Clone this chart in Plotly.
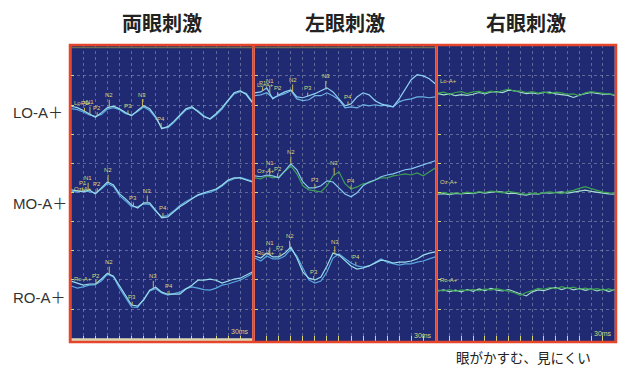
import numpy as np
import plotly.graph_objects as go

W, H = 618, 366

panel_titles = ["両眼刺激", "左眼刺激", "右眼刺激"]
row_labels = ["LO-A＋", "MO-A＋", "RO-A＋"]
channel_tags = ["Lo-A+", "Oz-A+", "Ro-A+"]
caption = "眼がかすむ、見にくい"
sweep_label = "30ms"

# sample times (ms) shared by every sweep
t_ms = list(range(0, 301, 10))

# ---- binocular stimulation: two averaged sweeps per channel (µV, re. channel baseline)
bin_lo_a = [0, -0.5, -1.5, -2.6, -3.8, -2.2, -0.5, 0, -0.9, -2.2, -3.3, -1.5, 0.2, -0.9, -3.6, -7.7,
            -7.0, -5.2, -2.9, -0.9, -0.2, -1.9, -3.6, -4.3, -2.6, -0.5, 2.2, 4.6, 5.3, 4.0, 1.2]
bin_lo_b = [-0.8, -1.2, -2.0, -3.0, -3.5, -2.8, -1.0, -0.5, -1.2, -2.6, -3.0, -1.8, -0.3, -1.5, -4.0, -7.3,
            -7.4, -5.6, -3.4, -1.3, -0.6, -1.6, -3.3, -4.5, -3.0, -1.0, 1.8, 4.2, 5.0, 4.4, 1.6]
bin_mo_a = [0, -0.3, -0.7, 0, -1.4, 0.7, 2.7, 1.7, -1.4, -3.1, -5.2, -6.2, -4.5, -4.5, -6.9, -9.6,
            -9.3, -7.6, -5.8, -4.5, -3.1, -1.7, -1.0, -0.3, 0.3, 1.7, 3.4, 4.1, 4.1, 3.4, 2.7]
bin_mo_b = [-0.5, -0.8, -0.3, -0.6, -1.0, 0.3, 2.2, 1.2, -2.0, -3.8, -5.8, -5.8, -4.8, -5.0, -7.4, -9.2,
            -8.8, -7.2, -5.4, -4.0, -2.9, -1.9, -1.3, -0.8, 0.0, 1.3, 3.0, 3.8, 4.3, 3.6, 3.0]
bin_ro_a = [0, -0.7, -1.4, -1.0, -1.0, 0.7, 2.7, 1.7, -1.7, -5.2, -8.2, -8.6, -6.5, -3.1, -2.1, -3.8,
            -4.5, -4.5, -4.5, -2.7, -1.4, 0.3, 0.3, 0.7, 0.3, -0.7, 0, 0.7, 1.0, 2.1, 3.1]
bin_ro_b = [-1.7, -2.4, -2.0, -1.4, -1.2, 0.0, 2.4, 1.4, -2.4, -5.8, -8.9, -9.0, -6.2, -3.4, -2.6, -4.1,
            -4.8, -4.3, -3.8, -2.6, -2.0, -2.4, -2.9, -3.1, -2.4, -1.4, -1.0, -0.3, 0.3, 1.4, 2.6]

# ---- left-eye stimulation
lft_lo_a = [0, 0.3, 1.7, -2.1, -0.7, 0.3, 1.0, -1.4, -1.7, -1.0, -0.3, 0.7, 1.7, 0.3, -2.1, -4.5,
            -3.8, -1.4, 0, -0.7, -2.7, -3.8, -4.5, -4.8, -2.1, 1.4, 4.5, 6.2, 5.8, 4.8, 3.1]
lft_lo_b = [-1.0, -0.7, 0, -1.7, -1.0, -0.3, 0.7, -2.1, -2.7, -2.4, -1.0, -1.0, 0, -1.0, -2.4, -5.2,
            -4.8, -5.2, -4.1, -4.5, -4.1, -4.5, -4.1, -4.8, -3.1, -2.4, -2.1, -1.4, -1.4, -1.7, -1.4]
lft_mo_a = [0, -0.3, 0.3, 0, -0.7, 1.7, 4.1, 2.1, -2.1, -4.1, -4.1, -3.4, -1.7, -2.1, -4.1, -6.2,
            -7.2, -5.8, -3.4, -2.1, -1.4, -0.3, 0.3, 0.7, 1.4, 2.1, 2.4, 3.1, 3.8, 4.5, 5.2]
lft_mo_b = [-0.7, -1.0, 0, -0.7, -0.3, 1.4, 3.4, 0.7, -3.4, -4.8, -5.2, -5.5, -3.4, 0, 1.4, -2.7,
            -4.5, -3.8, -2.7, -2.4, -1.4, -0.7, -0.7, 0, 0.3, 0.7, 0.3, 1.0, 0, 1.4, 2.7]
lft_ro_a = [0, -0.7, 1.0, -0.3, -0.3, 1.0, 3.1, -0.7, -5.5, -7.6, -8.2, -7.2, -3.4, 1.0, 0.3, -1.7,
            -3.4, -4.5, -4.1, -3.4, -2.4, -1.4, -1.7, -2.4, -2.1, -2.1, -1.7, -1.0, 0.3, 1.0, 1.4]
lft_ro_b = [-0.7, -1.7, 0, -1.0, -1.0, 0, 2.4, 0, -4.1, -8.2, -9.3, -8.6, -5.5, -0.7, 0.7, -1.0,
            -2.4, -3.4, -3.8, -3.4, -2.1, -1.0, -2.1, -2.7, -3.1, -2.7, -2.7, -2.1, -1.7, -1.0, -0.3]

# ---- right-eye stimulation (no clear response)
rgt_lo_a = [0, 0.3, -0.4, 0.2, 0.5, -0.2, 0.4, 0.6, 0.1, 0.7, 0.3, 0.9, 1.4, 0.6, 0.8, 0.2,
            0.5, 0.0, 0.4, -0.2, 0.3, 0.1, -0.4, -0.3, -0.9, 0.1, 0.5, 0.2, -0.1, -0.4, -0.5]
rgt_lo_b = [-0.2, -0.6, -0.3, -0.9, -0.5, -0.8, -0.4, 0.2, -0.3, 0.4, 0.5, 0.2, 1.0, 0.8, 0.3, -0.2,
            0.1, -0.3, 0.2, 0.3, -0.3, -0.6, -0.8, -1.5, -0.7, -0.2, 0.2, -0.1, -0.4, -0.3, -0.8]
rgt_mo_a = [0, 0.2, -0.3, 0.1, -0.2, 0.3, 0.0, 0.5, 0.2, 0.7, 0.4, 0.1, 0.6, 0.2, -0.1, -0.4,
            0.0, -0.3, 0.2, 0.4, 0.1, -0.2, 0.5, 0.9, 1.6, 2.2, 1.5, 0.8, 0.3, 0.1, -0.2]
rgt_mo_b = [-0.4, -0.2, -0.5, -0.1, -0.3, 0.0, -0.2, 0.3, 0.0, 0.2, 0.6, 0.3, -0.2, 0.0, -0.5, -0.7,
            -0.2, -0.4, 0.1, 0.0, 0.2, 0.4, 0.0, 0.3, 0.8, 1.0, 0.6, 0.2, 0.0, -0.3, -0.4]
rgt_ro_a = [0, -0.3, 0.2, -0.4, 0.1, -0.2, 0.3, -0.3, 0.4, 0.0, 0.5, 0.1, -0.4, -0.9, -1.8, -0.8,
            -0.2, 0.6, 0.3, 0.9, 0.4, 1.2, 0.6, 1.0, 0.3, 0.7, 0.2, 0.5, 0.0, 0.4, -0.2]
rgt_ro_b = [-0.3, 0.1, -0.5, 0.0, -0.6, 0.2, -0.4, 0.4, -0.2, 0.6, 0.0, -0.3, 0.2, -0.5, -1.2, -2.0,
            -0.6, 0.1, -0.2, 0.5, 0.9, 0.2, 0.8, 0.1, 0.6, -0.1, 0.4, -0.3, 0.3, -0.5, 0.2]

# peak markers (name, latency in ms)
bin_peaks = [
    [("P1", 22), ("N1", 31), ("P2", 43), ("N2", 63), ("P3", 94), ("N3", 118), ("P4", 149)],
    [("P1", 19), ("N1", 28), ("P2", 43), ("N2", 61), ("P3", 103), ("N3", 126), ("P4", 152)],
    [("P2", 41), ("N2", 63), ("P3", 101), ("N3", 136), ("P4", 162)],
]
lft_peaks = [
    [("P1", 13), ("N1", 25), ("P2", 38), ("N2", 63), ("P3", 88), ("N3", 118), ("P4", 155)],
    [("N1", 25), ("P2", 38), ("N2", 60), ("P3", 100), ("N3", 132), ("P4", 160)],
    [("N1", 25), ("P2", 42), ("N2", 58), ("P3", 98), ("N3", 133), ("P4", 168)],
]
rgt_peaks = [[], [], []]

waves = [
    [(bin_lo_a, bin_lo_b), (bin_mo_a, bin_mo_b), (bin_ro_a, bin_ro_b)],
    [(lft_lo_a, lft_lo_b), (lft_mo_a, lft_mo_b), (lft_ro_a, lft_ro_b)],
    [(rgt_lo_a, rgt_lo_b), (rgt_mo_a, rgt_mo_b), (rgt_ro_a, rgt_ro_b)],
]
peaks = [bin_peaks, lft_peaks, rgt_peaks]

# ---- screen layout ------------------------------------------------------
baselines = [[69.6, 40.9, 9.6], [74.2, 45.7, 18.2], [74.1, 39.8, 6.5]]
tag_shift = [[3, 1, 2], [8, 5, 3], [12, 11, 10]]
sweep_colors = [
    [("#9adbea", "#5aa8e0"), ("#9adbea", "#5aa8e0"), ("#9adbea", "#5aa8e0")],
    [("#8fd0f2", "#6db3e3"), ("#86c8f0", "#3f9f55"), ("#9adbea", "#5aa8e0")],
    [("#3aa24e", "#a5dccf"), ("#3aa24e", "#a5dccf"), ("#3aa24e", "#a5dccf")],
]

edges = [70, 253.5, 436.5, 616]
top_px, bot_px = 45, 342
BG = "#1f2a72"
RED = "#e5452b"
YEL = "#dcd67c"
GRID = "rgba(160,165,190,0.5)"


def xp(px):
    return px / W


def yp(py):
    return 1 - py / H


fig = go.Figure()
annotations = []
shapes = []

for i in range(3):
    sfx = "" if i == 0 else str(i + 1)
    xa, ya = "x" + sfx, "y" + sfx
    fig.update_layout(**{
        "xaxis" + sfx: dict(
            domain=[xp(edges[i] + 1.25), xp(edges[i + 1] - 1.25)], range=[0, 300],
            anchor=ya, tickmode="linear", tick0=0, dtick=20, showgrid=True,
            gridcolor=GRID, griddash="dot", gridwidth=1, zeroline=False,
            showticklabels=False, ticks="inside", ticklen=6, tickcolor=YEL,
            showline=False, fixedrange=True),
        "yaxis" + sfx: dict(
            domain=[yp(bot_px), yp(top_px)], range=[-11.3, 90.6], anchor=xa,
            tickmode="array", tickvals=list(range(0, 81, 10)), showgrid=True,
            gridcolor=GRID, griddash="dot", gridwidth=1, zeroline=False,
            showticklabels=False, ticks="inside", ticklen=3, tickcolor=YEL,
            showline=False, fixedrange=True),
    })

    for r in range(3):
        a, b = waves[i][r]
        base = baselines[i][r]
        ca, cb = sweep_colors[i][r]
        ya_vals = np.array(a) + base
        yb_vals = np.array(b) + base
        fig.add_trace(go.Scatter(x=t_ms, y=yb_vals, mode="lines", line=dict(color=cb, width=1.2),
                                 xaxis=xa, yaxis=ya, hoverinfo="skip", showlegend=False))
        fig.add_trace(go.Scatter(x=t_ms, y=ya_vals, mode="lines", line=dict(color=ca, width=1.2),
                                 xaxis=xa, yaxis=ya, hoverinfo="skip", showlegend=False))

        # channel tag at sweep start
        annotations.append(dict(
            x=0.5, y=ya_vals[0], xref=xa, yref=ya, xanchor="left", yanchor="middle",
            yshift=tag_shift[i][r], text=channel_tags[r], showarrow=False,
            font=dict(family="Liberation Sans", size=6, color=YEL)))

        # peak markers above the sweeps (negative peaks slightly higher)
        for name, lat in peaks[i][r]:
            yv = max(np.interp(lat, t_ms, ya_vals), np.interp(lat, t_ms, yb_vals))
            annotations.append(dict(
                x=lat, y=yv, xref=xa, yref=ya, text=name, showarrow=True, arrowhead=0,
                arrowwidth=1, arrowcolor="#c9b85a", ax=0,
                ay=-12 if name.startswith("N") else -8, standoff=0,
                font=dict(family="Liberation Sans", size=6, color=YEL)))

    # panel title
    annotations.append(dict(
        x=xp((edges[i] + edges[i + 1]) / 2), y=yp(23), xref="paper", yref="paper",
        xanchor="center", yanchor="middle",
        text="<b>" + panel_titles[i] + "</b>", showarrow=False,
        font=dict(family="Noto Sans CJK JP", size=20, color="#222222")))

# sweep-length marks
for right_px, py in [(251, 331.5), (434, 335), (614, 333.5)]:
    annotations.append(dict(
        x=xp(right_px), y=yp(py), xref="paper", yref="paper",
        xanchor="right", yanchor="middle",
        text=sweep_label, showarrow=False,
        font=dict(family="Liberation Sans", size=7, color=YEL)))

# row labels
for label, py in zip(row_labels, [112, 204, 297]):
    annotations.append(dict(
        x=xp(11), y=yp(py), xref="paper", yref="paper",
        xanchor="left", yanchor="middle",
        text=label, showarrow=False,
        font=dict(family="Liberation Sans, Noto Sans CJK JP", size=15, color="#333333")))

annotations.append(dict(
    x=xp(523), y=yp(357), xref="paper", yref="paper", xanchor="center", yanchor="middle",
    text=caption, showarrow=False,
    font=dict(family="Noto Sans CJK JP", size=13.5, color="#222222")))

# light baseline strip in the binocular panel
shapes.append(dict(type="rect", xref="paper", yref="paper",
                   x0=xp(71.5), x1=xp(252.3), y0=yp(341), y1=yp(338.3),
                   fillcolor="#dcd8b4", line=dict(width=0), layer="above"))
# inner top rule of the first two panels
shapes.append(dict(type="line", xref="paper", yref="paper",
                   x0=xp(71.3), x1=xp(435.2), y0=yp(47.6), y1=yp(47.6),
                   line=dict(color="#6f6b4e", width=1.5), layer="above"))
# panel frames
shapes.append(dict(type="rect", xref="paper", yref="paper",
                   x0=xp(edges[0]), x1=xp(edges[3]), y0=yp(bot_px), y1=yp(top_px),
                   line=dict(color=RED, width=2.5), layer="above"))
for ex in edges[1:3]:
    shapes.append(dict(type="line", xref="paper", yref="paper",
                       x0=xp(ex), x1=xp(ex), y0=yp(bot_px), y1=yp(top_px),
                       line=dict(color=RED, width=2.5), layer="above"))

fig.update_layout(
    width=W, height=H, margin=dict(l=0, r=0, t=0, b=0),
    paper_bgcolor="white", plot_bgcolor=BG,
    annotations=annotations, shapes=shapes, showlegend=False,
)

fig.write_html("out.html", config={"displayModeBar": False})
